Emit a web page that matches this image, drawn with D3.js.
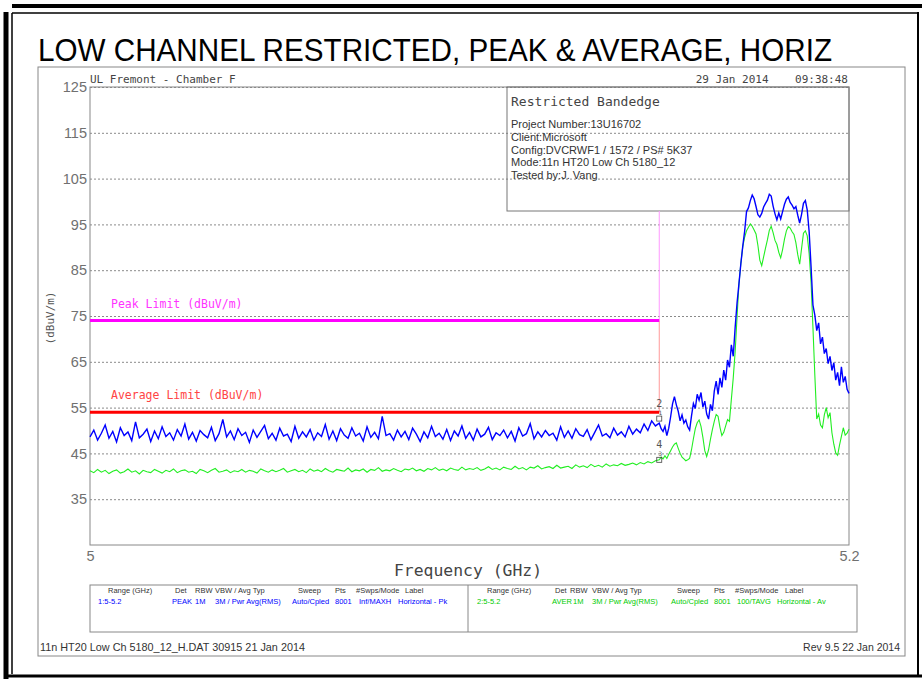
<!DOCTYPE html>
<meta charset="utf-8">
<title>Low channel restricted, peak &amp; average, horiz</title>
<style>
body{margin:0;background:#fff;}
svg{display:block;}
text{font-family:"DejaVu Sans Mono",monospace;}
.cond,.cond text{font-family:"Liberation Sans Narrow","Liberation Sans",Arial,sans-serif;}
.yaxis .domain{display:none;}
.yaxis line{stroke:#8a8a8a;stroke-dasharray:2,2;}
.yaxis text{fill:#707070;font-size:14.5px;}
.xaxis .domain,.xaxis line{display:none;}
.xaxis text{fill:#707070;font-size:14.5px;}
</style>
<body>
<script src="https://cdn.jsdelivr.net/npm/d3@7"></script>
<script>
// --- data ---
var yTicks=[35,45,55,65,75,85,95,105,115,125];
var xTicks=[5,5.2];
var peakLimit=74, avgLimit=54, bandEdge=5.15;

// 5.000 .. 5.149 GHz, 1 MHz step
var lowStart=5.000, lowStep=0.001;
var peakLow=[
48.6,50.1,47.9,49.4,51.2,48.3,49.8,47.5,50.6,48.9,
49.7,47.8,51.9,48.4,49.2,50.3,47.6,49.9,48.2,50.8,
48.7,49.5,47.9,50.2,48.8,51.4,48.1,49.6,47.7,50.0,
49.1,48.4,50.7,47.8,49.3,52.4,48.6,49.9,48.0,50.4,
48.9,49.6,47.4,50.1,48.5,49.8,51.1,48.2,49.4,47.9,
50.5,48.8,49.2,47.6,50.9,48.3,49.7,48.6,50.2,47.9,
49.5,48.7,51.3,48.1,49.9,47.8,50.4,49.0,48.3,50.6,
48.8,49.4,47.7,50.8,48.5,49.6,48.2,53.1,48.9,49.3,
47.9,50.1,48.6,49.8,48.0,50.5,49.2,47.6,49.7,48.4,
50.9,48.7,49.4,48.1,50.2,47.8,49.9,48.8,51.0,48.3,
49.6,47.9,50.3,48.6,49.2,50.7,48.0,49.5,48.9,50.1,
48.4,49.8,47.7,50.6,48.8,49.3,51.5,48.2,49.7,48.6,
50.0,48.9,49.4,47.9,50.8,48.5,49.9,48.3,50.4,49.1,
48.7,50.2,48.0,49.6,51.2,48.8,49.3,48.4,50.5,49.0,
49.7,48.6,50.9,49.2,50.3,49.5,51.4,50.0,52.1,51.0];
var avgLow=[
41.2,40.8,41.5,40.9,41.3,40.6,41.1,41.4,40.7,41.0,
41.6,40.9,41.2,40.5,41.3,41.0,40.8,41.5,41.1,40.7,
41.3,41.0,41.6,40.8,41.2,41.4,40.9,41.1,40.6,41.5,
41.2,40.8,41.3,41.7,40.9,41.1,41.4,40.8,41.2,41.0,
41.5,40.9,41.3,41.1,40.7,41.6,41.2,40.9,41.4,41.0,
41.3,41.7,40.9,41.2,41.5,41.0,41.3,40.8,41.6,41.1,
41.4,41.0,41.7,41.2,40.9,41.5,41.3,41.1,41.8,41.0,
41.4,41.2,41.6,40.9,41.5,41.3,41.9,41.1,41.4,41.2,
41.7,41.3,41.0,41.6,41.4,41.8,41.2,41.5,41.1,41.7,
41.4,41.9,41.3,41.6,41.2,41.8,41.5,41.3,42.0,41.4,
41.7,41.5,41.9,41.3,41.6,42.1,41.5,41.8,41.4,42.0,
41.7,41.5,42.2,41.6,41.9,41.4,42.0,41.8,42.3,41.6,
41.9,42.1,41.7,42.4,41.8,42.0,42.2,41.7,42.5,42.0,
42.3,41.9,42.6,42.1,42.4,42.0,42.7,42.2,42.5,42.3,
42.8,42.4,42.6,42.9,42.5,43.0,42.7,43.2,42.9,43.4];

// 5.150 .. 5.200 GHz, 0.5 MHz step
var highStart=5.150, highStep=0.0005;
var peakHigh=[
51.6,50.4,49.8,50.9,48.9,50.5,53.0,55.8,57.4,55.6,
54.2,52.1,53.4,51.6,52.3,50.8,50.1,53.2,55.9,54.8,
57.9,56.6,58.3,55.1,56.4,53.6,52.5,55.7,54.3,58.6,
60.8,57.9,61.5,59.4,63.2,61.0,65.4,63.8,68.7,66.2,
72.5,77.8,82.0,86.4,90.2,93.5,97.8,98.6,100.2,101.4,
100.6,98.9,97.1,96.6,97.4,98.8,99.6,100.3,101.6,101.2,
99.0,97.3,96.0,97.5,96.2,97.8,99.4,100.5,101.0,99.8,
99.2,98.4,98.9,97.0,95.3,97.2,99.6,100.2,98.1,93.4,
85.8,77.4,75.2,71.8,73.5,68.9,70.4,66.8,67.9,64.6,
66.2,63.1,64.8,61.0,62.7,59.8,63.9,60.5,61.8,59.0,
58.1];
var avgHigh=[
43.6,44.2,43.8,44.5,43.9,44.8,45.6,46.4,47.0,47.3,
46.1,45.0,44.2,43.8,43.4,43.6,43.9,45.8,48.2,50.4,
51.7,52.3,50.9,48.5,45.6,44.3,45.8,48.1,50.2,52.0,
53.5,53.1,50.7,48.9,49.6,51.0,52.4,52.0,56.8,61.5,
67.2,74.8,82.0,86.5,90.1,92.2,93.6,94.4,95.1,94.6,
93.8,92.9,90.4,87.2,86.0,87.9,89.8,91.6,93.7,94.6,
93.2,91.5,90.6,88.9,87.7,89.5,91.8,93.6,94.5,94.2,
93.4,92.8,91.0,88.4,86.3,89.7,93.1,93.6,92.5,88.6,
82.4,72.5,62.0,52.5,53.6,51.2,50.6,53.4,55.0,52.8,
53.9,49.5,47.0,45.1,44.6,46.8,48.7,50.6,49.0,49.4,
50.3];

// marker readouts at the band edge
var peakMarker=52.6, avgMarker=43.6;

var infoLines=["Project Number:13U16702","Client:Microsoft","Config:DVCRWF1 / 1572 / PS# 5K37",
  "Mode:11n HT20 Low Ch 5180_12","Tested by:J. Vang"];
var tableHead=["Range (GHz)","Det","RBW","VBW / Avg Typ","Sweep","Pts","#Swps/Mode","Label"];
var tracePk=["1:5-5.2","PEAK","1M","3M / Pwr Avg(RMS)","Auto/Cpled","8001","Inf/MAXH","Horizontal - Pk"];
var traceAv=["2:5-5.2","AVER","1M","3M / Pwr Avg(RMS)","Auto/Cpled","8001","100/TAVG","Horizontal - Av"];

// --- drawing ---
var W=922,H=679;
var svg=d3.select("body").append("svg").attr("width",W).attr("height",H);

function toPts(start,step,vals){return vals.map(function(v,i){return [start+i*step,v];});}
var peakPts=toPts(lowStart,lowStep,peakLow).concat(toPts(highStart,highStep,peakHigh));
var avgPts=toPts(lowStart,lowStep,avgLow).concat(toPts(highStart,highStep,avgHigh));

var x=d3.scaleLinear().domain([5,5.2]).range([90,849]);
var y=d3.scaleLinear().domain([25,125]).range([545,87]);

// page frame
var frame=svg.append("g").attr("stroke","#000").attr("fill","none");
frame.append("line").attr("x1",12).attr("x2",W).attr("y1",6).attr("y2",6).attr("stroke-width",4);
frame.append("line").attr("x1",6).attr("x2",6).attr("y1",12).attr("y2",H).attr("stroke-width",5);
frame.append("line").attr("x1",6).attr("x2",W).attr("y1",676).attr("y2",676).attr("stroke-width",3);
frame.append("line").attr("x1",918).attr("x2",918).attr("y1",12).attr("y2",676).attr("stroke-width",2);
frame.append("line").attr("x1",12).attr("x2",12).attr("y1",13).attr("y2",674).attr("stroke-width",1.5);
frame.append("line").attr("x1",12).attr("x2",918).attr("y1",13).attr("y2",13).attr("stroke-width",1.5);

svg.append("text").attr("x",38).attr("y",61)
  .style("font-family","'Liberation Sans',Arial,sans-serif").style("font-size","31px")
  .attr("textLength",794).attr("lengthAdjust","spacingAndGlyphs")
  .text("LOW CHANNEL RESTRICTED, PEAK & AVERAGE, HORIZ");

// plotter frame
svg.append("rect").attr("x",38).attr("y",67).attr("width",867).attr("height",589)
  .attr("fill","none").attr("stroke","#888");

svg.append("text").attr("x",90).attr("y",83).attr("fill","#444").style("font-size","11px")
  .text("UL Fremont - Chamber F");
svg.append("text").attr("x",848).attr("y",83).attr("fill","#444").style("font-size","11px")
  .style("white-space","pre").attr("text-anchor","end").text("29 Jan 2014    09:38:48");

// grid + y labels
svg.append("g").attr("class","yaxis cond").attr("transform","translate(90,0)")
  .call(d3.axisLeft(y).tickValues(yTicks).tickSize(-(x.range()[1]-90)).tickPadding(3));
svg.append("g").attr("class","xaxis cond").attr("transform","translate(0,545)")
  .call(d3.axisBottom(x).tickValues(xTicks).tickFormat(d3.format("")).tickSize(0).tickPadding(6));

svg.append("rect").attr("x",90).attr("y",87).attr("width",x.range()[1]-90).attr("height",545-87)
  .attr("fill","none").attr("stroke","#888");

// info box
var ib=svg.append("g");
ib.append("rect").attr("x",507).attr("y",87).attr("width",x.range()[1]-507).attr("height",124)
  .attr("fill","none").attr("stroke","#777");
ib.append("text").attr("x",511).attr("y",106).attr("fill","#444").style("font-size","13px")
  .text("Restricted Bandedge");
ib.selectAll("text.info").data(infoLines).enter().append("text").attr("class","info cond")
  .attr("x",511).attr("y",function(d,i){return 128+i*12.8;}).attr("fill","#333")
  .style("font-size","11px").text(function(d){return d;});

svg.append("text").attr("transform","translate(54,318) rotate(-90)").attr("text-anchor","middle")
  .attr("fill","#555").style("font-size","11px").text("(dBuV/m)");
svg.append("text").attr("x",394).attr("y",576).attr("fill","#444")
  .attr("textLength",148).attr("lengthAdjust","spacingAndGlyphs")
  .style("font-size","15px").text("Frequency (GHz)");

// limits
svg.append("line").attr("x1",x(bandEdge)).attr("x2",x(bandEdge)).attr("y1",211).attr("y2",y(peakLimit))
  .attr("stroke","#ff99ff");
svg.append("line").attr("x1",x(bandEdge)).attr("x2",x(bandEdge)).attr("y1",y(peakLimit)).attr("y2",y(avgLimit))
  .attr("stroke","#ff9999");
svg.append("line").attr("x1",x(5)).attr("x2",x(bandEdge)).attr("y1",y(peakLimit)).attr("y2",y(peakLimit))
  .attr("stroke","#ff00ff").attr("stroke-width",3);
svg.append("line").attr("x1",x(5)).attr("x2",x(bandEdge)).attr("y1",y(avgLimit)).attr("y2",y(avgLimit))
  .attr("stroke","#ff0000").attr("stroke-width",3);
svg.append("text").attr("x",111).attr("y",y(peakLimit)-13).attr("fill","#ff33ff").style("font-size","11.5px")
  .text("Peak Limit (dBuV/m)");
svg.append("text").attr("x",111).attr("y",y(avgLimit)-13).attr("fill","#ff4444").style("font-size","11.5px")
  .text("Average Limit (dBuV/m)");

// traces
var line=d3.line().x(function(d){return x(d[0]);}).y(function(d){return y(d[1]);});
svg.append("path").datum(avgPts).attr("d",line).attr("fill","none").attr("stroke","#22ee22").attr("stroke-width",1.1);
svg.append("path").datum(peakPts).attr("d",line).attr("fill","none").attr("stroke","#0000ff").attr("stroke-width",1.4);

// markers
[[peakMarker,"2","1"],[avgMarker,"4","3"]].forEach(function(m){
  var mx=x(bandEdge), my=y(m[0]);
  svg.append("rect").attr("x",mx-2.5).attr("y",my-2.5).attr("width",5).attr("height",5)
    .attr("fill","none").attr("stroke","#444").attr("stroke-width",0.8);
  svg.append("text").attr("x",mx).attr("y",my-12).attr("text-anchor","middle").attr("fill","#555")
    .style("font-size","10px").text(m[1]);
  svg.append("text").attr("x",mx+1).attr("y",my-4).attr("text-anchor","middle").attr("fill","#555")
    .style("font-size","6px").text(m[2]);
});

// trace table
var tb=svg.append("g").attr("class","cond");
tb.append("rect").attr("x",90).attr("y",585).attr("width",767).attr("height",47)
  .attr("fill","none").attr("stroke","#888");
tb.append("line").attr("x1",468).attr("x2",468).attr("y1",585).attr("y2",632).attr("stroke","#888");
var headX=[[108,175,195,215,298,335,356,405],[487,555,570,592,677,714,735,785]];
var rowX=[[98,172,195,215,292,335,359,398],[477,552,573,592,671,714,737,777]];
[[tracePk,"#0000ff"],[traceAv,"#00cc00"]].forEach(function(t,k){
  tb.selectAll(null).data(tableHead).enter().append("text")
    .attr("x",function(d,i){return headX[k][i];}).attr("y",593).attr("fill","#333")
    .style("font-size","7.5px").text(function(d){return d;});
  tb.selectAll(null).data(t[0]).enter().append("text")
    .attr("x",function(d,i){return rowX[k][i];}).attr("y",604).attr("fill",t[1])
    .style("font-size","7.5px").text(function(d){return d;});
});

// footer
svg.append("text").attr("class","cond").attr("x",40).attr("y",651).attr("fill","#333").style("font-size","10.5px")
  .attr("textLength",265).attr("lengthAdjust","spacingAndGlyphs")
  .text("11n HT20 Low Ch 5180_12_H.DAT 30915 21 Jan 2014");
svg.append("text").attr("class","cond").attr("x",900).attr("y",651).attr("text-anchor","end").attr("fill","#333")
  .style("font-size","10.5px").text("Rev 9.5 22 Jan 2014");
</script>
</body>
</html>
